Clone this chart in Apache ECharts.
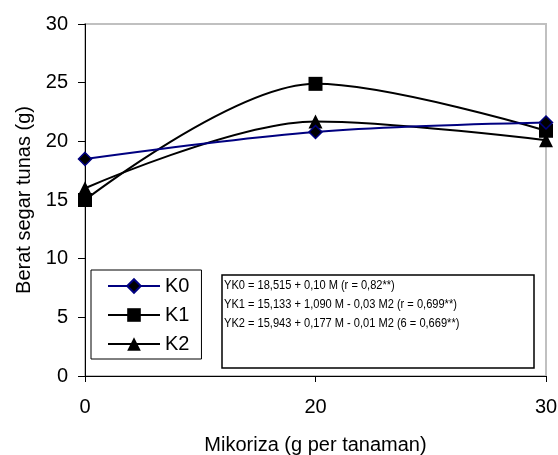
<!DOCTYPE html>
<html>
<head>
<meta charset="utf-8">
<script src="https://cdn.jsdelivr.net/npm/echarts@6/dist/echarts.min.js"></script>
<style>
    html, body { margin: 0; padding: 0; background: #fff; }
    #chart { width: 558px; height: 455px; }
</style>
</head>
<body>
<div id="chart"></div>
<script>
// data
var mikoriza = ['0', '20', '30'];
var k0 = [18.5, 20.8, 21.6];
var k1 = [15.0, 24.9, 20.9];
var k2 = [16.0, 21.7, 20.1];
var seriesNames = ['K0', 'K1', 'K2'];
var equations = [
    'YK0 = 18,515 + 0,10 M (r = 0,82**)',
    'YK1 = 15,133 + 1,090 M - 0,03 M2 (r = 0,699**)',
    'YK2 = 15,943 + 0,177 M - 0,01 M2 (6 = 0,669**)'
];

var font = 'Liberation Sans, Arial, sans-serif';

var myChart = echarts.init(document.getElementById('chart'));

// equation lines inside the box, squeezed a bit to look like a narrow font
var eqText = equations.map(function (t, i) {
    return {
        type: 'text',
        x: 224,
        y: 278 + i * 19,
        scaleX: 0.82,
        z: 11,
        style: { text: t, font: '13.5px ' + font, fill: '#000' }
    };
});

var option = {
    animation: false,
    backgroundColor: '#fff',
    grid: {
        left: 85, right: 12, top: 24, bottom: 79,
        outerBoundsMode: 'none',
        containLabel: false,
        show: true, borderColor: '#c0c0c0', borderWidth: 2
    },
    legend: {
        orient: 'vertical',
        left: 91,
        top: 270,
        data: seriesNames,
        borderColor: '#000',
        borderWidth: 1,
        padding: [6, 12, 5, 16],
        itemWidth: 52,
        itemHeight: 17,
        itemGap: 9,
        textStyle: { fontSize: 20, fontFamily: font, color: '#000' }
    },
    xAxis: {
        type: 'category',
        data: mikoriza,
        boundaryGap: false,
        name: 'Mikoriza (g per tanaman)',
        nameLocation: 'middle',
        nameGap: 59,
        nameTextStyle: { fontSize: 20, fontFamily: font, color: '#000' },
        axisLine: { lineStyle: { color: '#000', width: 1 } },
        axisTick: { alignWithLabel: true, length: 6, lineStyle: { color: '#000' } },
        axisLabel: { fontSize: 20, fontFamily: font, color: '#000', margin: 21 },
        splitLine: { show: false }
    },
    yAxis: {
        type: 'value',
        min: 0, max: 30, interval: 5,
        name: 'Berat segar tunas (g)',
        nameLocation: 'middle',
        nameGap: 50,
        nameTextStyle: { fontSize: 20, fontFamily: font, color: '#000' },
        axisLine: { show: true, lineStyle: { color: '#000', width: 1 } },
        axisTick: { show: true, length: 7, lineStyle: { color: '#000' } },
        axisLabel: { fontSize: 20, fontFamily: font, color: '#000', margin: 17 },
        splitLine: { show: false }
    },
    graphic: [
        {
            type: 'rect',
            shape: { x: 222, y: 275, width: 312, height: 93 },
            style: { fill: '#fff', stroke: '#000', lineWidth: 1.5 },
            z: 10
        }
    ].concat(eqText),
    series: [
        {
            name: 'K0', type: 'line', data: k0, smooth: 0.33,
            symbol: 'diamond', symbolSize: 13,
            lineStyle: { color: '#000080', width: 2 },
            itemStyle: { color: '#000000', borderColor: '#000080', borderWidth: 1.5 },
            z: 3
        },
        {
            name: 'K1', type: 'line', data: k1, smooth: 0.33,
            symbol: 'rect', symbolSize: 14,
            lineStyle: { color: '#000', width: 2 },
            itemStyle: { color: '#000' },
            z: 2
        },
        {
            name: 'K2', type: 'line', data: k2, smooth: 0.33,
            symbol: 'triangle', symbolSize: 14,
            lineStyle: { color: '#000', width: 2 },
            itemStyle: { color: '#000' },
            z: 2
        }
    ]
};

myChart.setOption(option);
</script>
</body>
</html>
